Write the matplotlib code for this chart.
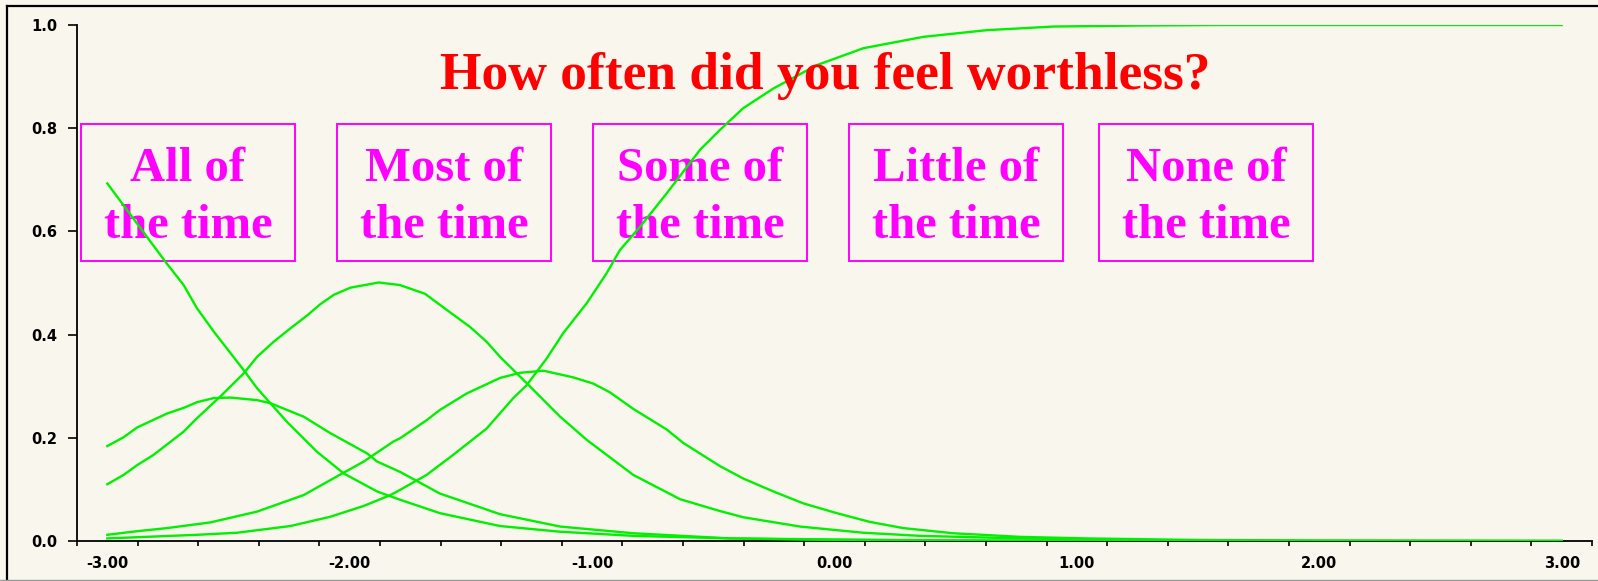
import matplotlib
matplotlib.use("Agg")
import matplotlib.pyplot as plt
import numpy as np
from matplotlib.patches import Rectangle
from matplotlib.lines import Line2D

# category response curves
p1_x = [-3.0, -2.76, -2.685, -2.63, -2.561, -2.437, -2.382, -2.259, -2.135, -2.025, -1.887,
        -1.7925, -1.628, -1.38, -1.132, -0.83, -0.431, 0.0, 0.5, 1.0, 2.0, 3.0]
p1_y = [0.693, 0.541, 0.496, 0.451, 0.406, 0.331, 0.296, 0.231, 0.173, 0.131, 0.096,
        0.080, 0.054, 0.029, 0.018, 0.010, 0.005, 0.003, 0.001, 0.0, 0.0, 0.0]

p2_x = [-3.0, -2.933, -2.877, -2.754, -2.685, -2.63, -2.561, -2.492, -2.382, -2.327, -2.19,
        -2.08, -1.929, -1.887, -1.7925, -1.628, -1.38, -1.132, -0.83, -0.431, 0.0, 0.5,
        1.0, 2.0, 3.0]
p2_y = [0.184, 0.201, 0.220, 0.247, 0.258, 0.269, 0.277, 0.278, 0.273, 0.267, 0.241,
        0.209, 0.170, 0.154, 0.134, 0.092, 0.052, 0.028, 0.015, 0.005, 0.002, 0.001,
        0.0, 0.0, 0.0]

p3_x = [-3.0, -2.933, -2.877, -2.809, -2.685, -2.63, -2.534, -2.437, -2.382, -2.314, -2.245,
        -2.176, -2.121, -2.066, -1.997, -1.88, -1.7925, -1.689, -1.6, -1.504, -1.435, -1.38,
        -1.27, -1.132, -1.022, -0.83, -0.637, -0.472, -0.376, -0.142, 0.119, 0.353, 0.765,
        1.2, 2.0, 3.0]
p3_y = [0.110, 0.128, 0.147, 0.167, 0.212, 0.238, 0.280, 0.325, 0.357, 0.386, 0.412,
        0.437, 0.459, 0.477, 0.491, 0.501, 0.496, 0.479, 0.448, 0.415, 0.386, 0.357,
        0.306, 0.241, 0.196, 0.128, 0.081, 0.058, 0.046, 0.028, 0.016, 0.010, 0.005,
        0.002, 0.0, 0.0]

p4_x = [-3.0, -2.877, -2.754, -2.575, -2.382, -2.19, -2.08, -1.942, -1.819, -1.7925, -1.683,
        -1.628, -1.517, -1.38, -1.297, -1.2, -1.077, -0.995, -0.926, -0.83, -0.692, -0.624,
        -0.472, -0.376, -0.252, -0.129, 0.009, 0.146, 0.284, 0.49, 0.765, 1.04, 1.5, 2.0, 3.0]
p4_y = [0.012, 0.019, 0.025, 0.036, 0.057, 0.089, 0.118, 0.154, 0.193, 0.199, 0.234,
        0.254, 0.286, 0.316, 0.326, 0.330, 0.317, 0.305, 0.288, 0.256, 0.216, 0.190,
        0.145, 0.121, 0.096, 0.073, 0.054, 0.037, 0.025, 0.015, 0.008, 0.005, 0.002, 0.001, 0.0]

p5_x = [-3.0, -2.63, -2.465, -2.245, -2.08, -1.942, -1.832, -1.7925, -1.683, -1.573, -1.435,
        -1.325, -1.27, -1.187, -1.119, -1.022, -0.94, -0.885, -0.802, -0.692, -0.555, -0.472,
        -0.376, -0.252, -0.074, 0.119, 0.366, 0.628, 0.903, 1.26, 1.6, 2.0, 3.0]
p5_y = [0.005, 0.012, 0.016, 0.029, 0.047, 0.068, 0.089, 0.099, 0.128, 0.167, 0.218,
        0.277, 0.302, 0.354, 0.403, 0.461, 0.519, 0.564, 0.609, 0.674, 0.758, 0.797,
        0.839, 0.877, 0.922, 0.955, 0.977, 0.990, 0.997, 0.999, 1.0, 1.0, 1.0]

categories = ["All of\nthe time", "Most of\nthe time", "Some of\nthe time",
              "Little of\nthe time", "None of\nthe time"]
x_tick_vals = [-3, -2, -1, 0, 1, 2, 3]
y_tick_vals = [0.0, 0.2, 0.4, 0.6, 0.8, 1.0]
title = "How often did you feel worthless?"

BG = "#f9f6ee"
GREEN = "#00f000"
MAGENTA = "#ff00ff"
W, H = 1598, 581

fig = plt.figure(figsize=(W / 100, H / 100), dpi=100, facecolor=BG)
ax = fig.add_axes([77 / W, 1 - 541 / H, (1592 - 77) / W, (541 - 25) / H])
ax.set_facecolor(BG)

for xs, ys in [(p1_x, p1_y), (p2_x, p2_y), (p3_x, p3_y), (p4_x, p4_y), (p5_x, p5_y)]:
    ax.plot(xs, ys, color=GREEN, lw=1.7, zorder=4)

ax.set_xlim(-3.125, 3.125)
ax.set_ylim(0, 1)
for s in ["top", "right"]:
    ax.spines[s].set_visible(False)
for s in ["left", "bottom"]:
    ax.spines[s].set_linewidth(1.3)

tick_font = dict(family="DejaVu Sans", weight="bold", size=10.5)
ax.set_xticks(x_tick_vals)
ax.set_xticklabels([f"{v:.2f}" for v in x_tick_vals], fontdict=tick_font)
ax.set_xticks(np.arange(-3.125, 3.126, 0.25), minor=True)
ax.tick_params(axis="x", which="major", length=0, pad=10.5)
ax.tick_params(axis="x", which="minor", length=3.6, width=1.2)
ax.set_yticks(y_tick_vals)
ax.set_yticklabels([f"{v:.1f}" for v in y_tick_vals], fontdict=tick_font)
ax.tick_params(axis="y", length=6.5, width=1.2, pad=7.5)

# category boxes
box_left = [81, 337, 593, 849, 1099]
for lab, bl in zip(categories, box_left):
    x0 = -3.125 + (bl - 77) / 242.4
    ax.add_patch(Rectangle((x0, (541 - 261) / 516), 214 / 242.4, 137 / 516,
                           fill=False, ec=MAGENTA, lw=1.4, zorder=2))
    l1, l2 = lab.split("\n")
    xc = x0 + 107 / 242.4
    ax.text(xc, (541 - 181) / 516, l1, ha="center", va="baseline", color=MAGENTA,
            family="Liberation Serif", weight="bold", size=35, zorder=3)
    ax.text(xc, (541 - 237.5) / 516, l2, ha="center", va="baseline", color=MAGENTA,
            family="Liberation Serif", weight="bold", size=35, zorder=3)

fig.text(825 / W, 1 - 89 / H, title, ha="center", va="baseline", color="#ff0000",
         family="Liberation Serif", weight="bold", size=38.5, zorder=10)

# outer frame
fig.add_artist(Line2D([7 / W, 7 / W], [0, 1 - 5.5 / H], color="black", lw=1.6,
                      transform=fig.transFigure))
fig.add_artist(Line2D([7 / W, 1], [1 - 5.5 / H, 1 - 5.5 / H], color="black", lw=1.6,
                      transform=fig.transFigure))
fig.add_artist(Line2D([0, 1], [0.6 / H, 0.6 / H], color="#999999", lw=1.0,
                      transform=fig.transFigure))

fig.savefig("out.png", dpi=100, facecolor=BG)
